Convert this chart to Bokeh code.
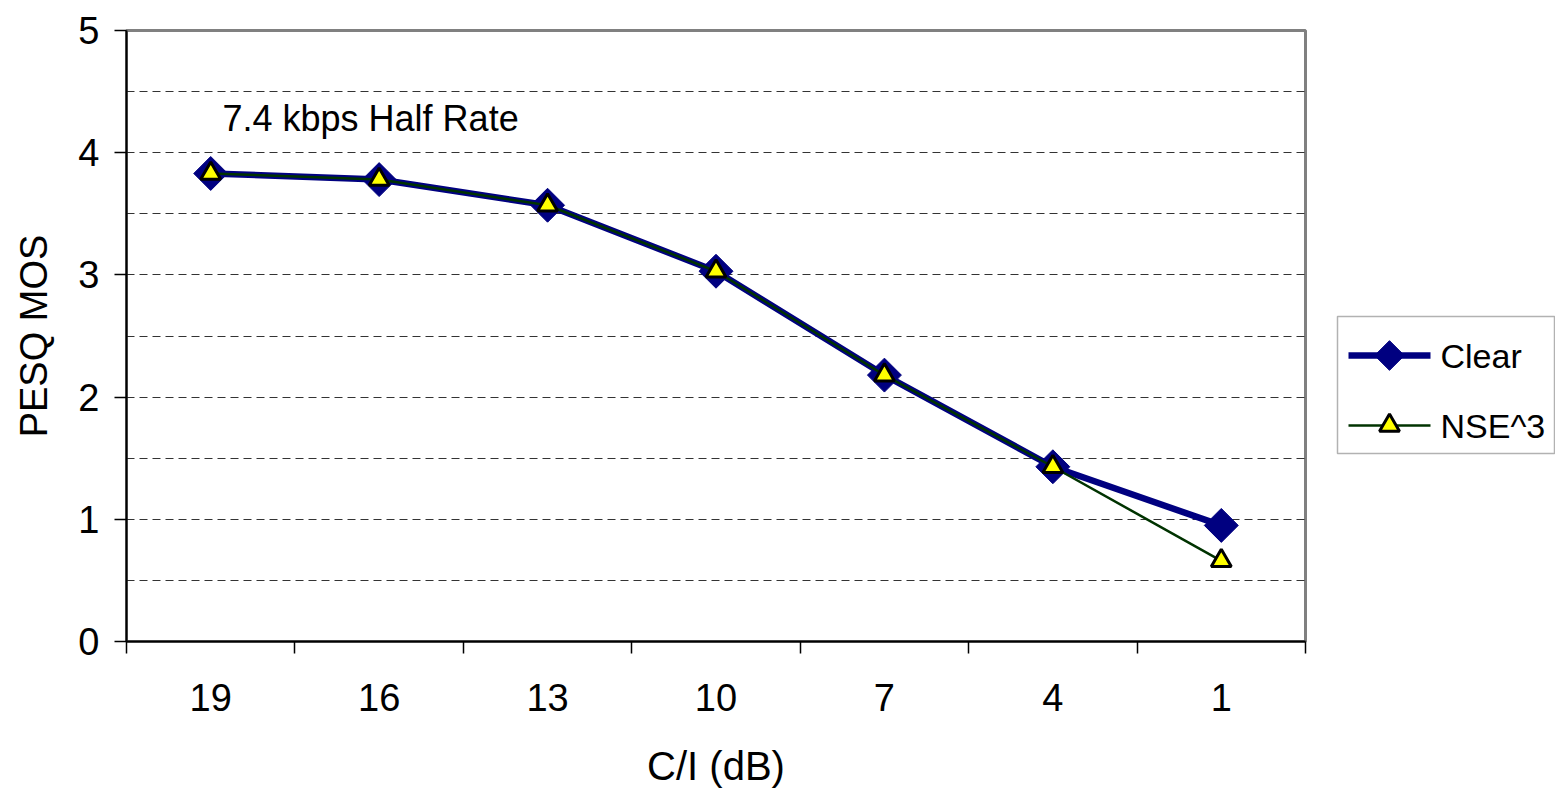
from bokeh.plotting import figure
from bokeh.layouts import row
from bokeh.models import Range1d, FixedTicker, Label, BoxAnnotation
from bokeh.core.properties import value
from bokeh.embed import file_html
from bokeh.resources import INLINE
import math

# Data
ci_labels = ["19", "16", "13", "10", "7", "4", "1"]
clear = [3.83, 3.78, 3.57, 3.03, 2.18, 1.43, 0.95]
nse3 = [3.83, 3.78, 3.57, 3.03, 2.18, 1.43, 0.66]
y_ticks = [0, 1, 2, 3, 4, 5]
grid_ticks = [0.5, 1, 1.5, 2, 2.5, 3, 3.5, 4, 4.5]
series_names = ["Clear", "NSE^3"]

n = len(ci_labels)
xs = [i + 0.5 for i in range(n)]
FONT = "Liberation Sans"
CLEAR_COLOR = "#000080"
NSE_COLOR = "#003300"
MAIN_W = 1307
H = 812
TOP, BOTTOM = 30, 171

p = figure(width=MAIN_W, height=H, output_backend="svg", toolbar_location=None,
           x_range=Range1d(0, n), y_range=Range1d(0, 5),
           min_border_left=126, min_border_right=2, min_border_top=TOP,
           min_border_bottom=BOTTOM)
p.background_fill_color = "white"
p.border_fill_color = "white"
p.outline_line_color = "#808080"
p.outline_line_width = 3

# axes
xa = p.xaxis[0]
xa.ticker = FixedTicker(ticks=xs, minor_ticks=list(range(n + 1)))
xa.major_label_overrides = {x: lab for x, lab in zip(xs, ci_labels)}
xa.major_tick_out = 0
xa.major_tick_in = 0
xa.minor_tick_out = 12
xa.minor_tick_in = 0
xa.minor_tick_line_color = "black"
xa.minor_tick_line_width = 1.5
xa.axis_line_color = "black"
xa.axis_line_width = 2
xa.major_label_text_font = FONT
xa.major_label_text_font_size = "38px"
xa.major_label_text_color = "black"
xa.major_label_standoff = 30
xa.axis_label = "C/I (dB)"
xa.axis_label_text_font = FONT
xa.axis_label_text_font_size = "40px"
xa.axis_label_text_font_style = "normal"
xa.axis_label_text_color = "black"
xa.axis_label_standoff = 30

ya = p.yaxis[0]
ya.ticker = FixedTicker(ticks=y_ticks, minor_ticks=[])
ya.major_tick_out = 12
ya.major_tick_in = 0
ya.major_tick_line_color = "black"
ya.major_tick_line_width = 1.5
ya.axis_line_color = "black"
ya.axis_line_width = 2
ya.major_label_text_font = FONT
ya.major_label_text_font_size = "38px"
ya.major_label_text_color = "black"
ya.major_label_standoff = 15
ya.axis_label = "PESQ MOS"
ya.axis_label_text_font = FONT
ya.axis_label_text_font_size = "38px"
ya.axis_label_text_font_style = "normal"
ya.axis_label_text_color = "black"
ya.axis_label_standoff = 20

p.xgrid.visible = False
p.ygrid.ticker = FixedTicker(ticks=grid_ticks, minor_ticks=[])
p.ygrid.grid_line_color = "#333333"
p.ygrid.grid_line_width = 1
p.ygrid.grid_line_dash = "8 5"

# series
p.line(xs, clear, line_color=CLEAR_COLOR, line_width=6.5)
p.scatter(xs, clear, marker="square", angle=math.pi / 4, size=24,
          fill_color=CLEAR_COLOR, line_color=CLEAR_COLOR, line_width=1)
p.line(xs, nse3, line_color=NSE_COLOR, line_width=2.5)
p.scatter(xs, nse3, marker="triangle", size=20, fill_color="#FFFF00",
          line_color="black", line_width=3)

lbl = Label(x=0.57, y=4.28, text="7.4 kbps Half Rate", text_font=FONT,
            text_font_size="36px", text_color="black", text_baseline="middle")
p.add_layout(lbl)

# legend panel on the right; its frame is aligned with the main frame (rows TOP..H-BOTTOM),
# so map its y range to page pixel rows
LW = 1555 - MAIN_W
q = figure(width=LW, height=H, output_backend="svg", toolbar_location=None,
           x_range=Range1d(0, LW), y_range=Range1d(H - BOTTOM, TOP), min_border=0,
           x_axis_location=None, y_axis_location=None, title=None)
q.grid.visible = False
q.outline_line_color = None
q.background_fill_color = "white"
q.border_fill_color = "white"

box_left, box_right, box_top, box_bottom = 1337 - MAIN_W, 1554 - MAIN_W, 316, 453
row_y = [355, 425]
g0, g1 = 1348 - MAIN_W, 1430 - MAIN_W
gc = (g0 + g1) / 2
tx = 1440 - MAIN_W

q.add_layout(BoxAnnotation(left=box_left, right=box_right, top=box_top, bottom=box_bottom,
                           fill_color="white", fill_alpha=1, line_color="black",
                           line_width=1.5, level="underlay"))
q.line([g0, g1], [row_y[0], row_y[0]], line_color=CLEAR_COLOR, line_width=6.5)
q.scatter([gc], [row_y[0]], marker="square", angle=math.pi / 4, size=21,
          fill_color=CLEAR_COLOR, line_color=CLEAR_COLOR, line_width=1)
q.line([g0, g1], [row_y[1], row_y[1]], line_color=NSE_COLOR, line_width=2.5)
q.scatter([gc], [row_y[1]], marker="triangle", size=20, fill_color="#FFFF00",
          line_color="black", line_width=3)
q.text(x=[tx, tx], y=row_y, text=series_names, text_font=value(FONT),
       text_font_size="34px", text_color="black", text_baseline="middle",
       text_align="left")

layout = row(p, q, spacing=0)
open("out.html", "w").write(file_html(layout, INLINE))
